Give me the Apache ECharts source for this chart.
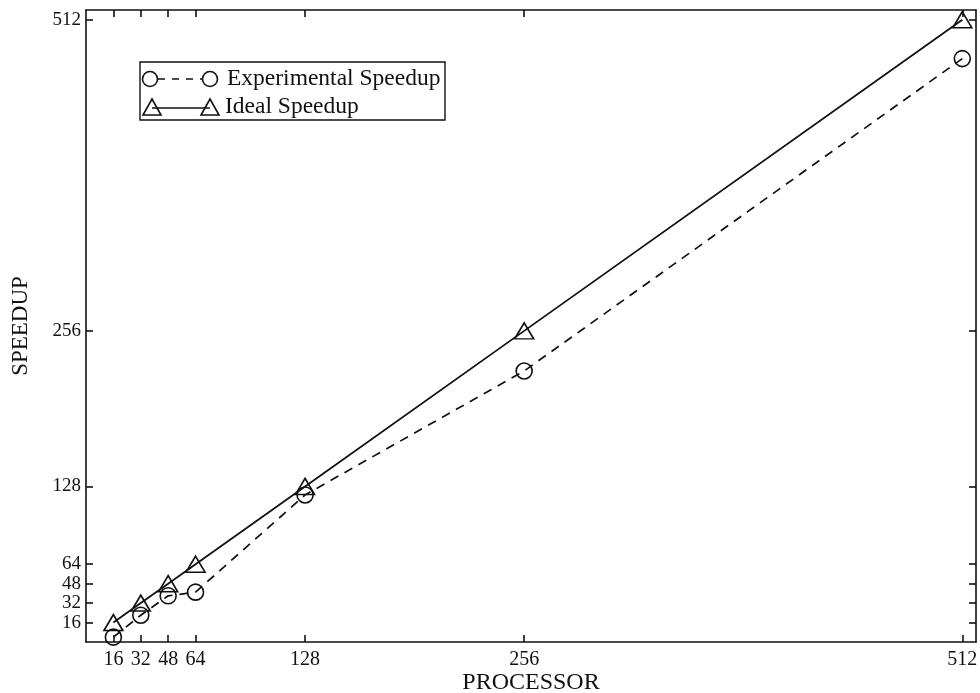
<!DOCTYPE html>
<html>
<head>
<meta charset="utf-8">
<script src="https://cdn.jsdelivr.net/npm/echarts@6/dist/echarts.min.js"></script>
<style>
  html, body { margin: 0; padding: 0; background: #fff; }
  #chart { width: 980px; height: 693px; }
</style>
</head>
<body>
<div id="chart"></div>
<script>
// Processor counts and measured vs. ideal speedup
const processors = [16, 32, 48, 64, 128, 256, 512];
const experimentalSpeedup = [4, 22, 38, 41, 121, 223, 480];
const idealSpeedup = [16, 32, 48, 64, 128, 256, 512];
const xTicks = [16, 32, 48, 64, 128, 256, 512];
const yTicks = [16, 32, 48, 64, 128, 256, 512];

const FONT = '"Liberation Serif", "DejaVu Serif", serif';
const INK = '#111';

const pair = (xs, ys) => xs.map((x, i) => [x, ys[i]]);

function tickLabels(ticks, margin, size) {
  return {
    show: true,
    customValues: ticks,
    hideOverlap: false,
    showMinLabel: true,
    showMaxLabel: true,
    fontFamily: FONT, fontSize: size, color: INK,
    margin: margin
  };
}

function axisBase(ticks) {
  return {
    type: 'value',
    min: 0,
    max: 520,
    splitLine: { show: false },
    axisLine: { show: true, onZero: false, lineStyle: { color: INK, width: 1.6 } },
    axisTick: {
      show: true, inside: true, length: 7,
      customValues: ticks,
      lineStyle: { color: INK, width: 1.6 }
    },
    axisLabel: { show: false }
  };
}

const chart = echarts.init(document.getElementById('chart'), null, { renderer: 'canvas' });

const marker = { color: 'rgba(0,0,0,0)', borderColor: INK, borderWidth: 1.6 };

chart.setOption({
  backgroundColor: '#fff',
  animation: false,
  grid: { left: 86, right: 4, top: 10, bottom: 51, containLabel: false, outerBoundsMode: 'none' },
  xAxis: [
    Object.assign(axisBase(xTicks), {
      position: 'bottom',
      name: 'PROCESSOR',
      nameLocation: 'middle',
      nameGap: 29,
      nameMoveOverlap: false,
      nameTextStyle: { fontFamily: FONT, fontSize: 24, color: INK },
      axisLabel: tickLabels(xTicks, 8, 20)
    }),
    Object.assign(axisBase(xTicks), { position: 'top' })
  ],
  yAxis: [
    Object.assign(axisBase(yTicks), {
      position: 'left',
      name: 'SPEEDUP',
      nameLocation: 'middle',
      nameGap: 54,
      nameMoveOverlap: false,
      nameTextStyle: { fontFamily: FONT, fontSize: 23, color: INK },
      axisLabel: tickLabels(yTicks, 5, 19)
    }),
    Object.assign(axisBase(yTicks), { position: 'right' })
  ],
  series: [
    {
      name: 'Experimental Speedup',
      type: 'line',
      data: pair(processors, experimentalSpeedup),
      symbol: 'circle',
      symbolSize: 16,
      itemStyle: marker,
      lineStyle: { color: INK, width: 1.7, type: [9, 7] },
      z: 3
    },
    {
      name: 'Ideal Speedup',
      type: 'line',
      data: pair(processors, idealSpeedup),
      symbol: 'triangle',
      symbolSize: [19, 16],
      itemStyle: marker,
      lineStyle: { color: INK, width: 1.8 },
      z: 4
    }
  ],
  graphic: [
    // key box
    { type: 'rect', shape: { x: 140, y: 62, width: 305, height: 58 },
      style: { fill: '#fff', stroke: INK, lineWidth: 1.4 }, z: 10 },
    // experimental row
    { type: 'circle', shape: { cx: 150, cy: 79, r: 7.5 },
      style: { fill: 'none', stroke: INK, lineWidth: 1.6 }, z: 11 },
    { type: 'line', shape: { x1: 158, y1: 79, x2: 203, y2: 79 },
      style: { stroke: INK, lineWidth: 1.6, lineDash: [7, 7] }, z: 11 },
    { type: 'circle', shape: { cx: 210, cy: 79, r: 7.5 },
      style: { fill: 'none', stroke: INK, lineWidth: 1.6 }, z: 11 },
    { type: 'text', x: 227, y: 79,
      style: { text: 'Experimental Speedup', font: '23.5px ' + FONT, fill: INK, textVerticalAlign: 'middle' }, z: 11 },
    // ideal row
    { type: 'polygon', shape: { points: [[152, 99], [143, 115], [161, 115]] },
      style: { fill: 'none', stroke: INK, lineWidth: 1.6 }, z: 11 },
    { type: 'line', shape: { x1: 152, y1: 108, x2: 210, y2: 108 },
      style: { stroke: INK, lineWidth: 1.6 }, z: 11 },
    { type: 'polygon', shape: { points: [[210, 99], [201, 115], [219, 115]] },
      style: { fill: 'none', stroke: INK, lineWidth: 1.6 }, z: 11 },
    { type: 'text', x: 225, y: 107,
      style: { text: 'Ideal Speedup', font: '23.5px ' + FONT, fill: INK, textVerticalAlign: 'middle' }, z: 11 }
  ]
});
</script>
</body>
</html>
